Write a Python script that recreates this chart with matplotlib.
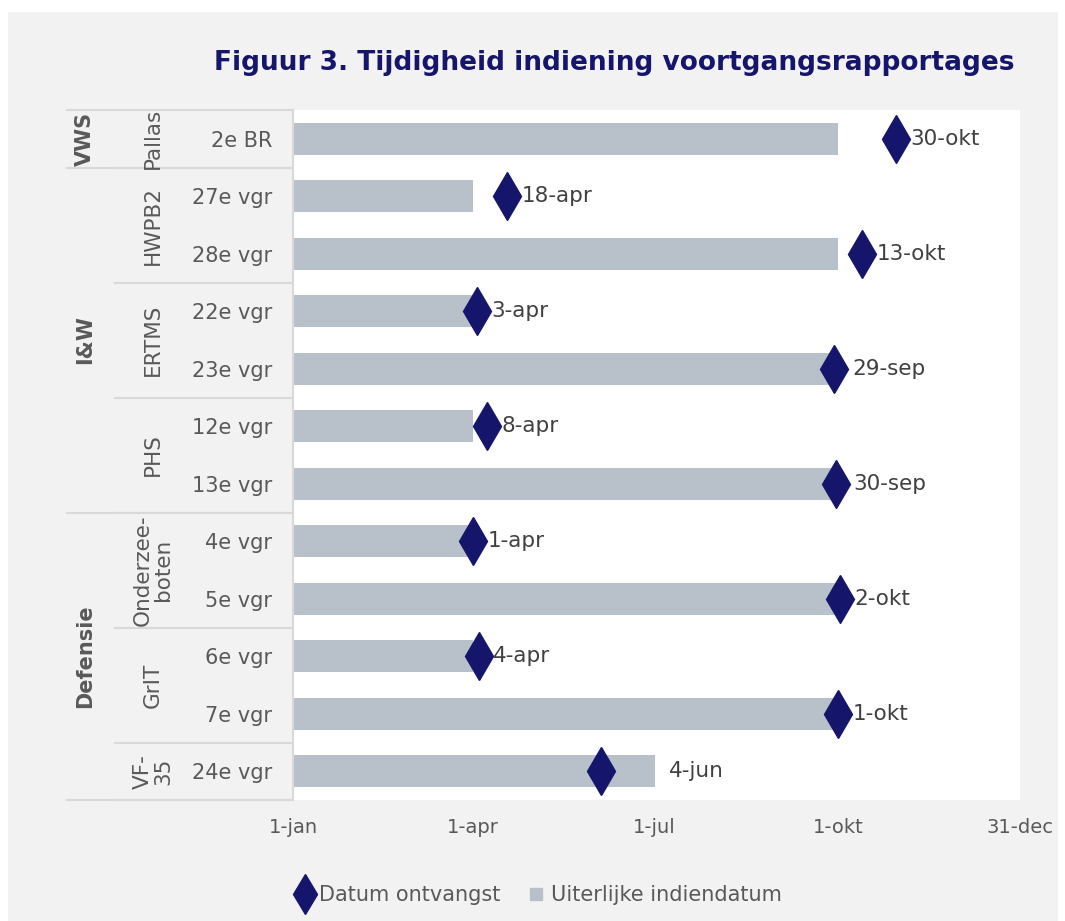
import matplotlib.pyplot as plt
import matplotlib.transforms as mtransforms
from matplotlib.lines import Line2D
from matplotlib.patches import Rectangle
import pandas as pd

# data
rapportages = ['2e BR', '27e vgr', '28e vgr', '22e vgr', '23e vgr', '12e vgr', '13e vgr',
               '4e vgr', '5e vgr', '6e vgr', '7e vgr', '24e vgr']
uiterlijk = ['2019-10-01', '2019-04-01', '2019-10-01', '2019-04-01', '2019-10-01', '2019-04-01',
             '2019-10-01', '2019-04-01', '2019-10-01', '2019-04-01', '2019-10-01', '2019-07-01']
ontvangst = ['2019-10-30', '2019-04-18', '2019-10-13', '2019-04-03', '2019-09-29', '2019-04-08',
             '2019-09-30', '2019-04-01', '2019-10-02', '2019-04-04', '2019-10-01', '2019-06-04']
ontvangst_lbl = ['30-okt', '18-apr', '13-okt', '3-apr', '29-sep', '8-apr', '30-sep',
                 '1-apr', '2-okt', '4-apr', '1-okt', '4-jun']
projecten = ['Pallas', 'HWPB2', 'ERTMS', 'PHS', 'Onderzee-\nboten', 'GrIT', 'VF-\n35']
project_rijen = [1, 2, 2, 2, 2, 2, 1]
ministeries = ['VWS', 'I&W', 'Defensie']
ministerie_rijen = [1, 6, 5]
xticks = ['2019-01-01', '2019-04-01', '2019-07-01', '2019-10-01', '2019-12-31']
xticklabels = ['1-jan', '1-apr', '1-jul', '1-okt', '31-dec']

def dag(d):
    return pd.Timestamp(d).dayofyear - 1

deadline = [dag(d) for d in uiterlijk]
received = [dag(d) for d in ontvangst]

navy = '#15156b'
barc = '#b8c1ca'
txt = '#595959'
linec = '#d9d9d9'

fig = plt.figure(figsize=(10.65, 9.21), dpi=100, facecolor='white')
fig.patches.append(Rectangle((8 / 1065, 0), 1050 / 1065, 1 - 12 / 921, transform=fig.transFigure,
                             facecolor='#f2f2f2', edgecolor='none', zorder=-10))
ax = fig.add_axes([293 / 1065, 1 - 800 / 921, 727 / 1065, 690 / 921])
ax.set_facecolor('white')

y = list(range(len(rapportages)))
ax.barh(y, deadline, height=0.56, color=barc, zorder=2)
ax.plot(received, y, linestyle='none', marker='d', markersize=24, color=navy, zorder=3)
for i in y:
    ax.annotate(ontvangst_lbl[i], (max(received[i], deadline[i]), i), xytext=(10.5, 0),
                textcoords='offset points', va='center', ha='left', fontsize=15.5, color='#404040')

ax.set_xlim(0, dag('2019-12-31'))
ax.set_ylim(len(rapportages) - 0.5, -0.5)
ax.set_xticks([dag(d) for d in xticks])
ax.set_xticklabels(xticklabels, fontsize=14, color=txt)
ax.tick_params(axis='x', length=0, pad=13)
ax.set_yticks(y)
ax.set_yticklabels(rapportages, fontsize=15, color=txt)
ax.tick_params(axis='y', length=0, pad=15)
for s in ['top', 'right', 'bottom']:
    ax.spines[s].set_visible(False)
ax.spines['left'].set_color(linec)
ax.spines['left'].set_linewidth(1.5)

# multi-level category axis
tr = mtransforms.blended_transform_factory(fig.transFigure, ax.transData)
px = lambda v: v / 1065

start = -0.5
for naam, n in zip(projecten, project_rijen):
    mid = start + n / 2
    ax.text(px(153), mid, naam, transform=tr, rotation=90, ha='center', va='center',
            fontsize=15.5, color=txt, linespacing=1.0)
    start += n
    ax.plot([px(115), px(293)], [start, start], transform=tr, color=linec, lw=1.5, clip_on=False)

start = -0.5
ax.plot([px(67), px(293)], [start, start], transform=tr, color=linec, lw=1.5, clip_on=False)
for naam, n in zip(ministeries, ministerie_rijen):
    mid = start + n / 2
    ax.text(px(85), mid, naam, transform=tr, rotation=90, ha='center', va='center',
            fontsize=15, color=txt, fontweight='bold')
    start += n
    ax.plot([px(67), px(293)], [start, start], transform=tr, color=linec, lw=1.5, clip_on=False)

fig.text(1015 / 1065, 1 - 63 / 921, 'Figuur 3. Tijdigheid indiening voortgangsrapportages',
         ha='right', va='center', fontsize=19, fontweight='bold', color=navy)

handles = [Line2D([], [], linestyle='none', marker='d', markersize=20, color=navy),
           Line2D([], [], linestyle='none', marker='s', markersize=8, color=barc)]
fig.legend(handles, ['Datum ontvangst', 'Uiterlijke indiendatum'], loc='center',
           bbox_to_anchor=(538 / 1065, 1 - 895 / 921), ncol=2, frameon=False, fontsize=15,
           handletextpad=0.2, columnspacing=1.2, handlelength=1.0, labelcolor=txt)

fig.savefig('out.png', dpi=100, facecolor=fig.get_facecolor())
